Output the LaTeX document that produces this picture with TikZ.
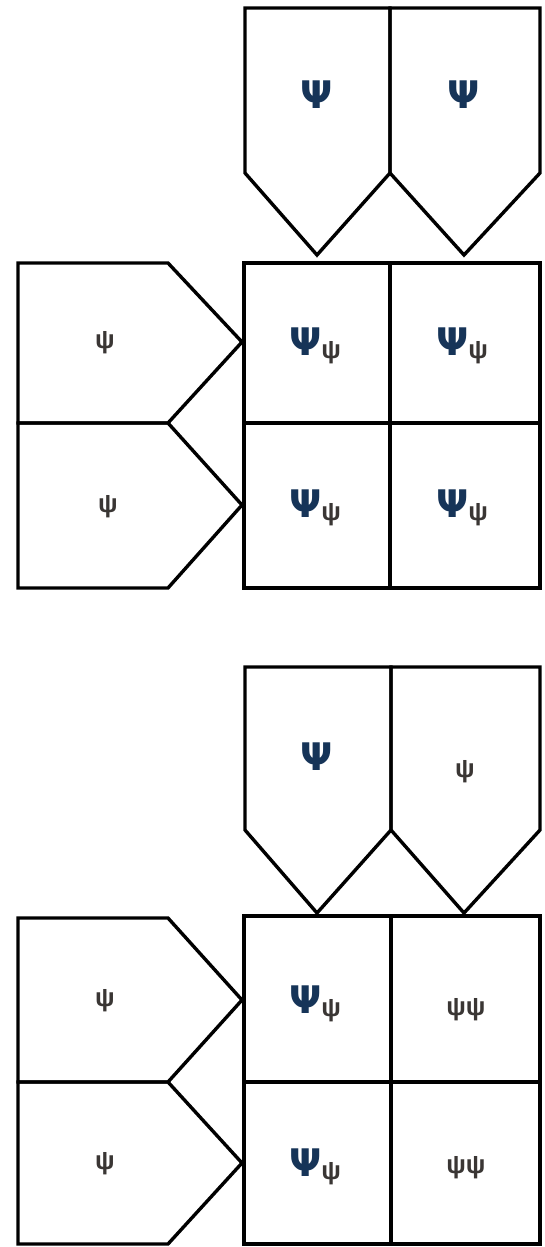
\documentclass[tikz,border=0pt]{standalone}
\usepackage{fontspec}
\usepackage{tikz}
\usetikzlibrary{positioning}
\newfontfamily\psifont{DejaVu Sans}
\newfontfamily\lowpsifont{Liberation Sans}
\definecolor{psiblue}{RGB}{22,52,88}
\definecolor{psigray}{RGB}{58,54,52}
\newcommand{\smallpsitext}{\lowpsifont\bfseries\fontsize{26}{26}\selectfont}
\newcommand{\subpsi}{\raisebox{-3pt}{\color{psigray}\smallpsitext ψ}}
\tikzset{
  cellline/.style={line width=3.4pt, line join=miter, draw=black},
  bigpsi/.style={font=\psifont\bfseries\fontsize{38}{38}\selectfont, text=psiblue, inner sep=0pt},
  smallpsi/.style={font=\smallpsitext, text=psigray, inner sep=0pt}
}

\begin{document}
\begin{tikzpicture}[x=1pt, y=-1pt]
      \useasboundingbox (0,0) rectangle (545,1247);
      % first table
      \draw[cellline] (245,8) -- (245,173) -- (317,255) -- (390,173) -- (390,8) -- cycle;
      \draw[cellline] (390,8) -- (390,173) -- (464,255) -- (540,173) -- (540,8) -- cycle;
      \draw[cellline] (18,263) -- (168,263) -- (242,342) -- (168,423) -- (18,423) -- cycle;
      \draw[cellline] (18,423) -- (168,423) -- (242,505) -- (168,588) -- (18,588) -- cycle;
      \draw[cellline] (244,263) rectangle (540,588);
      \draw[cellline] (390,263) -- (390,588);
      \draw[cellline] (244,423) -- (540,423);
      \node[bigpsi] (ta1) at (317,95) {Ψ};
      \node[bigpsi] (ta2) at (464,95) {Ψ};
      \node[smallpsi] (la1) at (105,343) {ψ};
      \node[smallpsi] (la2) at (108,507) {ψ};
      \node[bigpsi] (ca11) at (315,346) {Ψ\subpsi};
      \node[bigpsi] (ca12) at (462,346) {Ψ\subpsi};
      \node[bigpsi] (ca21) at (315,508) {Ψ\subpsi};
      \node[bigpsi] (ca22) at (462,508) {Ψ\subpsi};
      % second table
      \draw[cellline] (245,667) -- (245,830) -- (317,913) -- (391,830) -- (391,667) -- cycle;
      \draw[cellline] (391,667) -- (391,830) -- (464,913) -- (540,830) -- (540,667) -- cycle;
      \draw[cellline] (18,918) -- (168,918) -- (242,1000) -- (168,1082) -- (18,1082) -- cycle;
      \draw[cellline] (18,1082) -- (168,1082) -- (242,1163) -- (168,1244) -- (18,1244) -- cycle;
      \draw[cellline] (244,916) rectangle (540,1244);
      \draw[cellline] (391,916) -- (391,1244);
      \draw[cellline] (244,1082) -- (540,1082);
      \node[bigpsi] (tb1) at (317,757) {Ψ};
      \node[smallpsi] (tb2) at (465,772) {ψ};
      \node[smallpsi] (lb1) at (105,1001) {ψ};
      \node[smallpsi] (lb2) at (105,1164) {ψ};
      \node[bigpsi] (cb11) at (315,1004) {Ψ\subpsi};
      \node[smallpsi] (cb12) at (466,1010) {ψψ};
      \node[bigpsi] (cb21) at (315,1167) {Ψ\subpsi};
      \node[smallpsi] (cb22) at (466,1168) {ψψ};
    \end{tikzpicture}
\end{document}
